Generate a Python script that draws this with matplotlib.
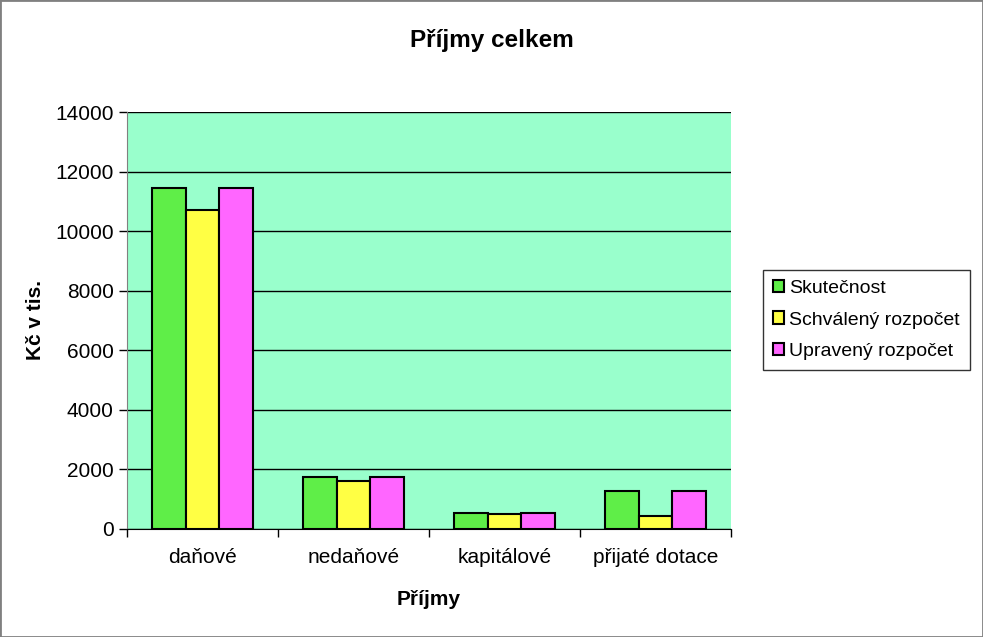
import numpy as np
import matplotlib.pyplot as plt
from matplotlib.patches import Rectangle

plt.rcParams['font.family'] = ['Liberation Sans', 'DejaVu Sans']

categories = ["daňové", "nedaňové", "kapitálové", "přijaté dotace"]
skutecnost = [11450, 1730, 525, 1275]
schvaleny = [10700, 1620, 495, 445]
upraveny = [11450, 1755, 525, 1275]
series_names = ["Skutečnost", "Schválený rozpočet", "Upravený rozpočet"]
colors = ["#5FEE48", "#FFFF44", "#FF66FF"]

fig = plt.figure(figsize=(9.83, 6.37), dpi=100)
fig.patches.append(Rectangle((0, 0), 1, 1, transform=fig.transFigure,
                             fill=False, edgecolor="#808080", linewidth=2))
ax = fig.add_axes([127 / 983, 1 - 529 / 637, (731 - 127) / 983, (529 - 112) / 637])
ax.set_facecolor("#99FFCC")

x = np.arange(len(categories))
w = 0.222
for i, (vals, name, c) in enumerate(zip([skutecnost, schvaleny, upraveny], series_names, colors)):
    ax.bar(x + (i - 1) * w, vals, w, color=c, edgecolor="black", linewidth=1.5, label=name, zorder=3)

ax.set_xlim(-0.5, len(categories) - 0.5)
ax.set_ylim(0, 14000)
ax.set_yticks(np.arange(0, 14001, 2000))
ax.yaxis.grid(True, color="black", linewidth=1, zorder=1)
ax.set_xticks(x)
ax.set_xticklabels(categories, fontsize=15)
ax.tick_params(axis="x", length=0, pad=14)
ax.set_xticks(np.arange(-0.5, len(categories), 1.0), minor=True)
ax.tick_params(axis="x", which="minor", length=6, width=1)
ax.tick_params(axis="y", labelsize=15, length=6, width=1)
for s in ["top", "right"]:
    ax.spines[s].set_visible(False)
ax.spines["left"].set_color("#808080")
ax.spines["bottom"].set_color("black")

ax.set_xlabel("Příjmy", fontsize=15, fontweight="bold", labelpad=16)
ax.set_ylabel("Kč v tis.", fontsize=15, fontweight="bold", labelpad=7)
fig.text(0.5, 1 - 40 / 637, "Příjmy celkem", ha="center", va="center", fontsize=17.5, fontweight="bold")

leg = ax.legend(loc="center left", bbox_to_anchor=(763 / 983, 1 - 320 / 637), bbox_transform=fig.transFigure,
                fontsize=14, frameon=True, fancybox=False, edgecolor="black", handlelength=0.6,
                handleheight=0.6, handletextpad=0.25, labelspacing=0.75, borderaxespad=0, borderpad=0.5)
leg.get_frame().set_linewidth(1)

fig.savefig("out.png", dpi=100)
